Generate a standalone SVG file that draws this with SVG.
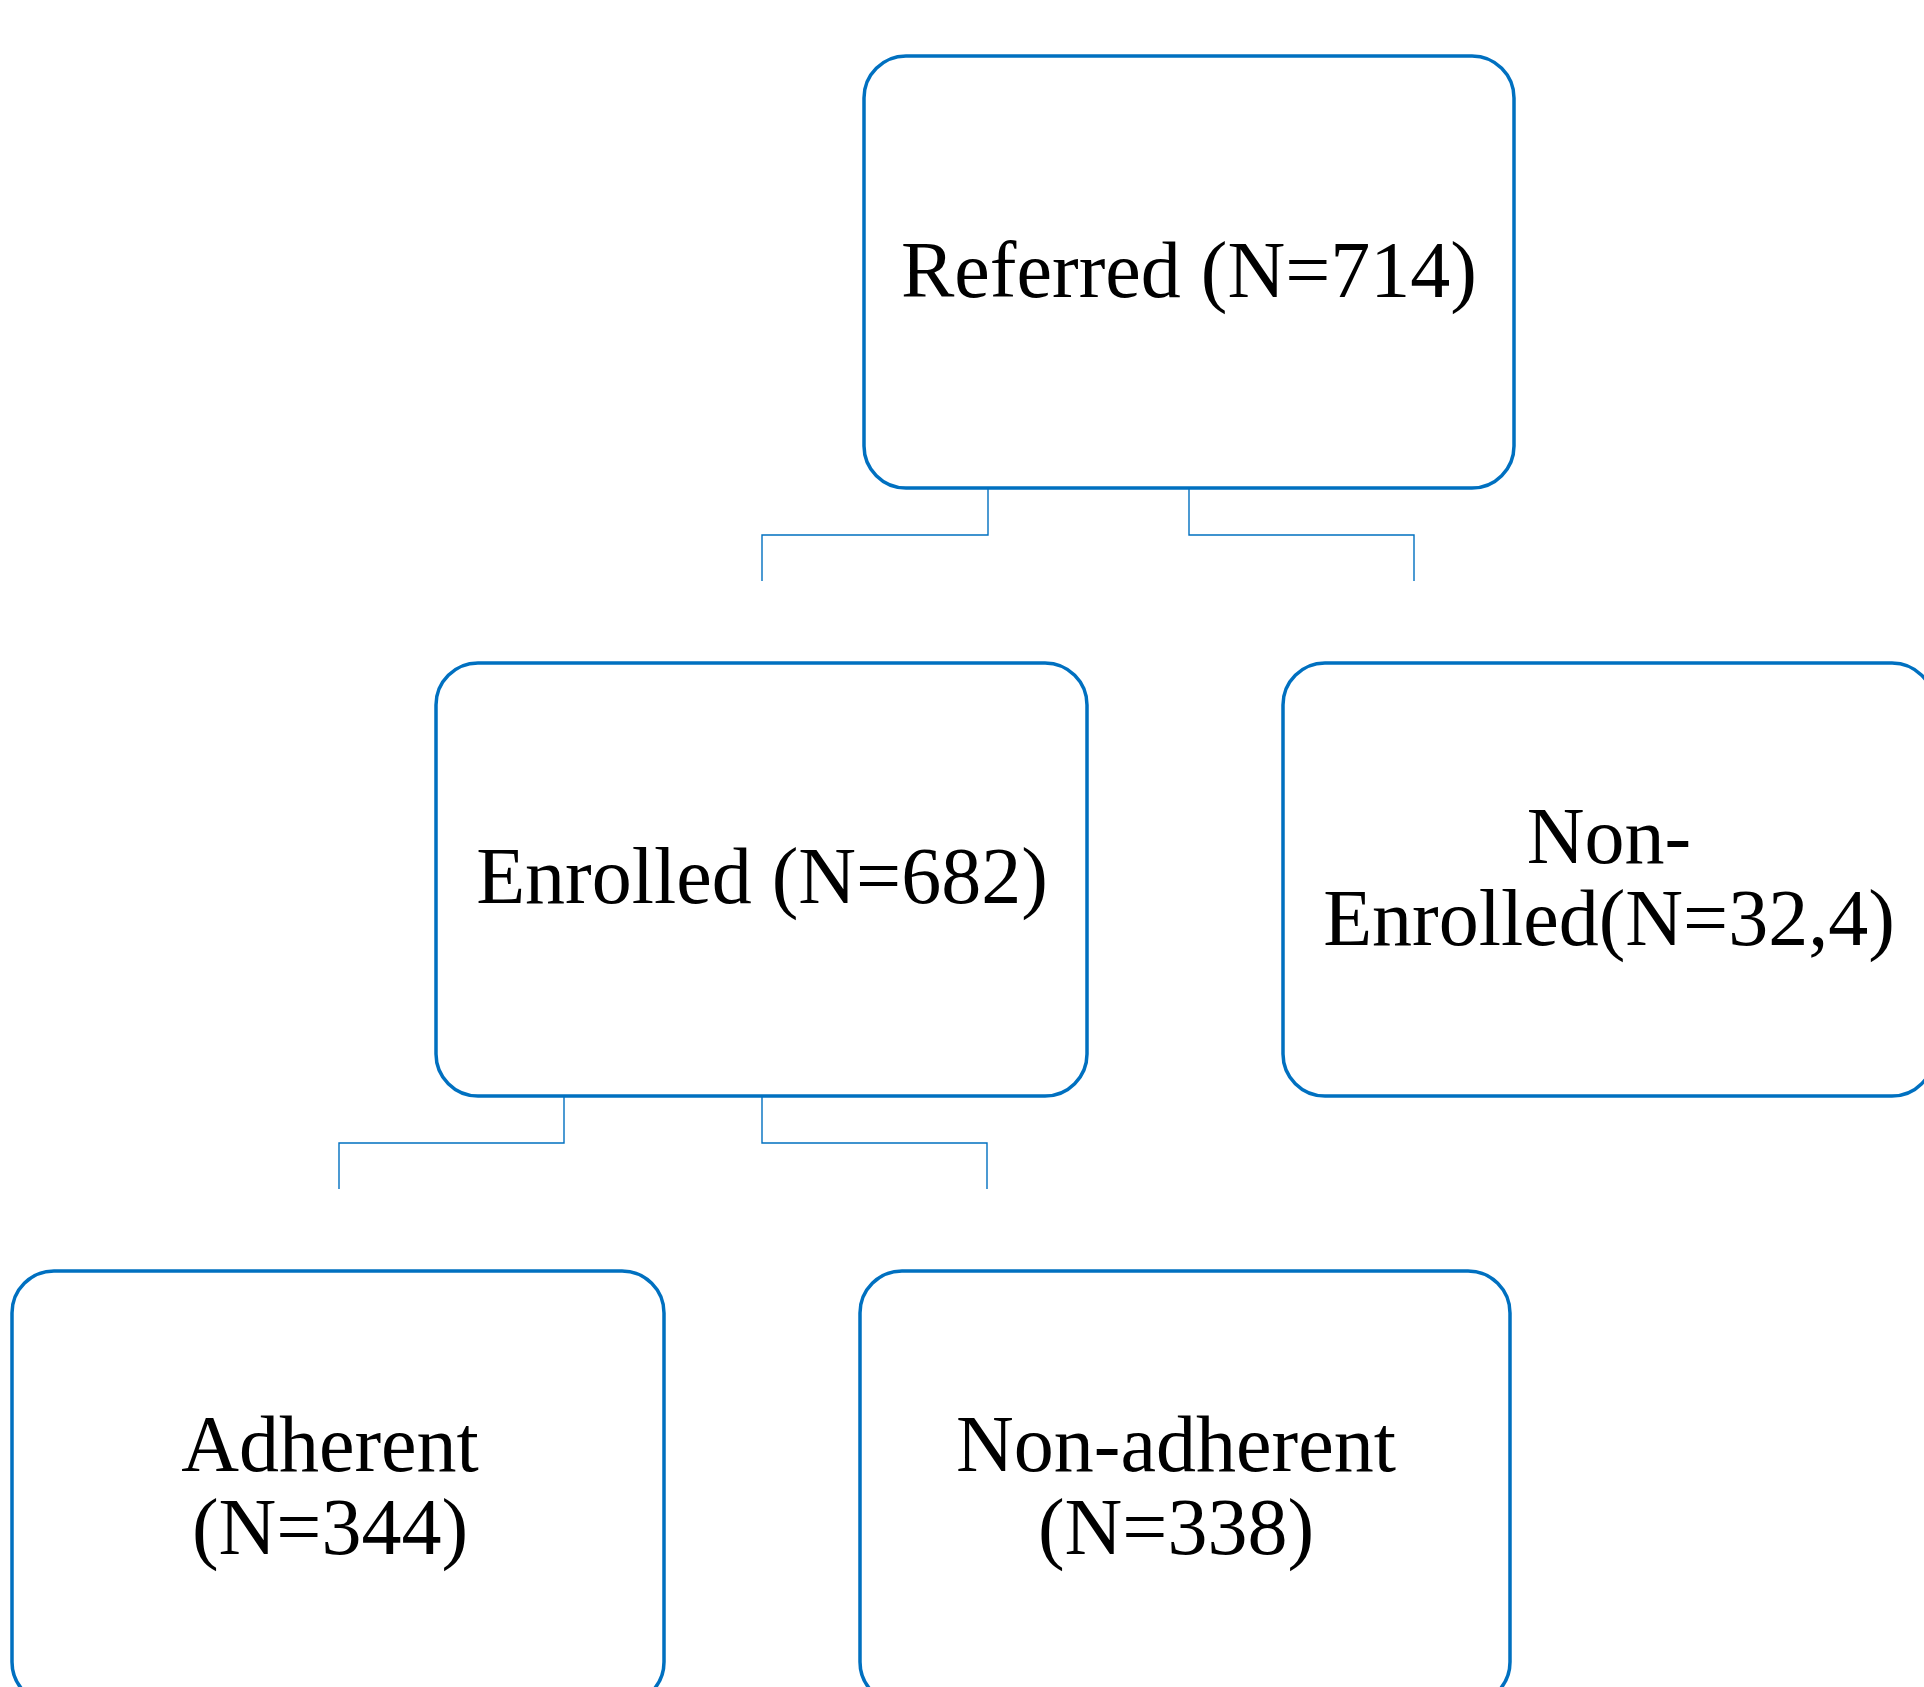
<svg xmlns="http://www.w3.org/2000/svg" width="1924" height="1687" viewBox="0 0 1924 1687">
<style>
.box{fill:#ffffff;stroke:#0070C0;stroke-width:3.5}
.lbl{font-family:"Liberation Serif","Times New Roman",serif;font-size:80px;fill:#000000;text-anchor:middle}
.conn{fill:none;stroke:#0070C0;stroke-width:1.4}
</style>
<rect x="0" y="0" width="1924" height="1687" fill="#ffffff"/>
<g id="connectors">
<path class="conn" d="M988,488 V535 H762 V581"/>
<path class="conn" d="M1189,488 V535 H1414 V581"/>
<path class="conn" d="M564,1097 V1143 H339 V1189"/>
<path class="conn" d="M762,1097 V1143 H987 V1189"/>
</g>
<g id="referred">
<rect class="box" x="864" y="56" width="650" height="432" rx="42" ry="42"/>
<text class="lbl" x="1189" y="297">Referred (N=714)</text>
</g>
<g id="enrolled">
<rect class="box" x="436" y="663" width="651" height="433" rx="42" ry="42"/>
<text class="lbl" x="762" y="903">Enrolled (N=682)</text>
</g>
<g id="non-enrolled">
<rect class="box" x="1283" y="663" width="651" height="433" rx="42" ry="42"/>
<text class="lbl" x="1609" y="863">Non-</text>
<text class="lbl" x="1609" y="945">Enrolled(N=32,4)</text>
</g>
<g id="adherent">
<rect class="box" x="12" y="1271" width="652" height="433" rx="42" ry="42"/>
<text class="lbl" x="330" y="1471">Adherent</text>
<text class="lbl" x="330" y="1554">(N=344)</text>
</g>
<g id="non-adherent">
<rect class="box" x="860" y="1271" width="650" height="433" rx="42" ry="42"/>
<text class="lbl" x="1176" y="1471">Non-adherent</text>
<text class="lbl" x="1176" y="1554">(N=338)</text>
</g>
</svg>
